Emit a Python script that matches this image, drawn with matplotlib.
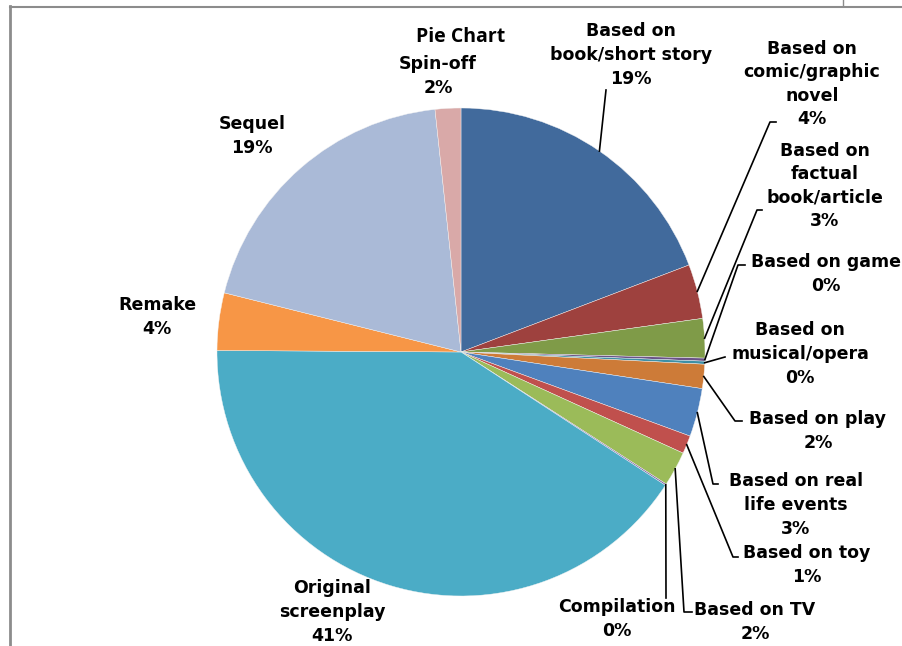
import matplotlib
matplotlib.use('Agg')
import matplotlib.pyplot as plt
import numpy as np

# share of films by source (percent), clockwise from 12 o'clock
sources = ['Based on\nbook/short story', 'Based on\ncomic/graphic\nnovel',
           'Based on\nfactual\nbook/article', 'Based on game',
           'Based on\nmusical/opera', 'Based on play',
           'Based on real\nlife events', 'Based on toy', 'Based on TV',
           'Compilation', 'Original\nscreenplay', 'Remake', 'Sequel',
           'Pie Chart\nSpin-off']
shares = [19.2, 3.6, 2.6, 0.2, 0.2, 1.6, 3.2, 1.2, 2.3, 0.1, 40.9, 3.8, 19.4, 1.7]
colors = ['#416A9C', '#9E413E', '#7F9B48', '#6A5287', '#3D8FA5', '#CD7B38',
          '#4F81BD', '#C0504D', '#9BBB59', '#8064A2', '#4BACC6', '#F79646',
          '#AABAD7', '#D9A9A8']

# label block centres (pixels) and leader line elbows
label_pos = [(631, 55), (812, 84), (825, 186), (826, 274), (800, 354),
             (818, 431), (796, 505), (807, 565), (755, 622), (617, 619),
             (332, 612), (157, 317), (252, 136), (438, 76)]
leaders = {0: [(606, 90)],
           1: [(776, 122), (770, 122)],
           2: [(762, 210), (757, 210)],
           3: [(745, 265), (738, 265)],
           4: [(725, 357)],
           5: [(742, 421), (735, 421)],
           6: [(718, 484), (713, 484)],
           7: [(738, 557), (733, 557)],
           8: [(692, 612), (684, 612)],
           9: [(666, 598)]}

W, H = 903, 646
cx, cy, r = 461, 352, 244

fig = plt.figure(figsize=(W / 100, H / 100), dpi=100)
ax = fig.add_axes([0, 0, 1, 1])
ax.set_xlim(0, W)
ax.set_ylim(H, 0)
ax.set_aspect('equal')
ax.axis('off')

# y axis points down, so counterclock in data = clockwise on screen
wedges, _ = ax.pie(shares, colors=colors, startangle=270, counterclock=True,
                   center=(cx, cy), radius=r, normalize=True,
                   wedgeprops=dict(edgecolor='#f4f4f4', linewidth=0.3))
ax.set_xlim(0, W)
ax.set_ylim(H, 0)

total = sum(shares)
for i, (w, name) in enumerate(zip(wedges, sources)):
    pct = shares[i] / total * 100
    x, y = label_pos[i]
    if i == 13:
        ax.text(461, 37, 'Pie Chart', ha='center', va='center', fontsize=14,
                fontweight='bold', family='Open Sans')
        ax.text(x, y, 'Spin-off\n%.0f%%' % pct, ha='center', va='center',
                fontsize=12.5, fontweight='bold', linespacing=1.4)
    else:
        ax.text(x, y, '%s\n%.0f%%' % (name, pct), ha='center', va='center',
                fontsize=12.5, fontweight='bold', linespacing=1.4)
    if i in leaders:
        mid = np.deg2rad((w.theta1 + w.theta2) / 2)
        px, py = cx + r * np.cos(mid), cy + r * np.sin(mid)
        pts = [(px, py)] + leaders[i][::-1]
        ax.plot([p[0] for p in pts], [p[1] for p in pts], color='black', lw=1.2)

# spreadsheet cell borders
ax.plot([10, 10], [6, H], color='#8c8c8c', lw=2)
ax.plot([10, W], [6.5, 6.5], color='#8c8c8c', lw=1.5)
ax.plot([843, 843], [0, 6], color='#8c8c8c', lw=1)

fig.savefig('out.png', dpi=100)
